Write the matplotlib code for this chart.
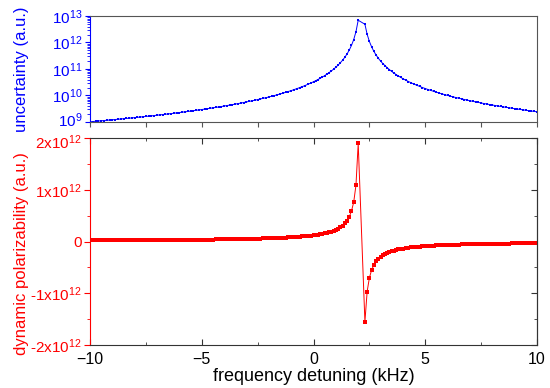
import matplotlib
matplotlib.use('Agg')
import matplotlib.pyplot as plt
import matplotlib.transforms as mtransforms
import numpy as np
from matplotlib.ticker import LogLocator, MultipleLocator, FixedLocator, FixedFormatter, NullFormatter

plt.rcParams['font.family'] = 'Liberation Sans'
plt.rcParams['mathtext.fontset'] = 'custom'
plt.rcParams['mathtext.rm'] = 'Liberation Sans'
plt.rcParams['mathtext.it'] = 'Liberation Sans'
plt.rcParams['mathtext.default'] = 'regular'

# frequency detuning (kHz)
freq = [-10.0, -9.875, -9.75, -9.625, -9.5, -9.375, -9.25, -9.125, -9.0, -8.875, -8.75, -8.625,
        -8.5, -8.375, -8.25, -8.125, -8.0, -7.875, -7.75, -7.625, -7.5, -7.375, -7.25, -7.125,
        -7.0, -6.875, -6.75, -6.625, -6.5, -6.375, -6.25, -6.125, -6.0, -5.875, -5.75, -5.625,
        -5.5, -5.375, -5.25, -5.125, -5.0, -4.875, -4.75, -4.625, -4.5, -4.375, -4.25, -4.125,
        -4.0, -3.875, -3.75, -3.625, -3.5, -3.375, -3.25, -3.125, -3.0, -2.875, -2.75, -2.625,
        -2.5, -2.375, -2.25, -2.125, -2.0, -1.875, -1.75, -1.625, -1.5, -1.375, -1.25, -1.125,
        -1.0, -0.875, -0.75, -0.625, -0.5, -0.375, -0.25, -0.125, 0.0,
        0.1, 0.2, 0.3, 0.4, 0.5, 0.6, 0.7, 0.8, 0.9, 1.0, 1.1, 1.2, 1.3, 1.4, 1.5, 1.6, 1.7,
        1.8, 1.9, 2.0,
        2.3, 2.4, 2.5, 2.6, 2.7, 2.8, 2.9, 3.0, 3.1, 3.2, 3.3, 3.4, 3.5, 3.6, 3.7, 3.8, 3.9, 4.0,
        4.125, 4.25, 4.375, 4.5, 4.625, 4.75, 4.875, 5.0, 5.125, 5.25, 5.375, 5.5, 5.625, 5.75,
        5.875, 6.0, 6.125, 6.25, 6.375, 6.5, 6.625, 6.75, 6.875, 7.0, 7.125, 7.25, 7.375, 7.5,
        7.625, 7.75, 7.875, 8.0, 8.125, 8.25, 8.375, 8.5, 8.625, 8.75, 8.875, 9.0, 9.125, 9.25,
        9.375, 9.5, 9.625, 9.75, 9.875, 10.0]

# uncertainty, in units of 1e9 a.u.
uncert = [1.019, 1.040, 1.062, 1.085, 1.108, 1.132, 1.157, 1.183, 1.210, 1.237, 1.266, 1.296,
          1.326, 1.358, 1.391, 1.425, 1.460, 1.497, 1.535, 1.575, 1.616, 1.659, 1.703, 1.749,
          1.798, 1.848, 1.900, 1.955, 2.012, 2.071, 2.133, 2.198, 2.267, 2.338, 2.413, 2.491,
          2.573, 2.660, 2.750, 2.846, 2.946, 3.053, 3.164, 3.282, 3.407, 3.539, 3.679, 3.828,
          3.985, 4.153, 4.331, 4.521, 4.724, 4.941, 5.172, 5.421, 5.688, 5.976, 6.287, 6.620,
          6.983, 7.375, 7.800, 8.264, 8.772, 9.328, 9.940, 10.61, 11.35, 12.18, 13.09, 14.11,
          15.26, 16.56, 18.02, 19.69, 21.60, 23.81, 26.37, 29.37, 32.91,
          36.22, 40.06, 44.55, 49.83, 56.11, 63.66, 72.85, 84.17, 98.36, 116.4, 140.0, 170.9,
          214.1, 275.9, 368.8, 517.8, 778.4, 1296, 2554, 6904,
          4882, 2035, 1097, 682.7, 464.8, 336.5, 254.8, 199.5, 160.5, 132.3, 110.5, 93.74,
          80.51, 69.89, 61.24, 54.11, 48.15, 43.13,
          37.88, 33.53, 29.89, 26.82, 24.19, 21.94, 19.98, 18.27, 16.78, 15.46, 14.29, 13.25,
          12.32, 11.48, 10.72, 10.04, 9.422, 8.858, 8.343, 7.873, 7.441, 7.043, 6.676, 6.338,
          6.024, 5.733, 5.462, 5.211, 4.977, 4.758, 4.552, 4.361, 4.181, 4.011, 3.852, 3.703,
          3.561, 3.428, 3.302, 3.183, 3.070, 2.963, 2.862, 2.765, 2.674, 2.587, 2.504, 2.425]

# dynamic polarizability, in units of 1e10 a.u.
polar = [2.11, 2.13, 2.15, 2.18, 2.20, 2.22, 2.25, 2.27, 2.30, 2.33, 2.35, 2.38, 2.41, 2.44,
         2.47, 2.50, 2.53, 2.56, 2.59, 2.62, 2.66, 2.69, 2.73, 2.77, 2.80, 2.84, 2.88, 2.92,
         2.97, 3.01, 3.05, 3.10, 3.15, 3.20, 3.25, 3.30, 3.35, 3.41, 3.47, 3.53, 3.59, 3.65,
         3.72, 3.79, 3.86, 3.93, 4.01, 4.09, 4.17, 4.26, 4.35, 4.44, 4.54, 4.65, 4.75, 4.87,
         4.99, 5.11, 5.24, 5.38, 5.52, 5.68, 5.84, 6.01, 6.19, 6.38, 6.59, 6.81, 7.04, 7.29,
         7.56, 7.85, 8.17, 8.51, 8.87, 9.28, 9.72, 10.20, 10.73, 11.33, 11.99,
         12.58, 13.23, 13.95, 14.76, 15.66, 16.68, 17.84, 19.18, 20.73, 22.56, 24.73, 27.38,
         30.66, 34.83, 40.31, 47.85, 58.85, 76.42, 108.9, 189.6,
         -155.2, -96.60, -70.14, -55.05, -45.31, -38.50, -33.46, -29.60, -26.53, -24.04,
         -21.97, -20.24, -18.75, -17.47, -16.36, -15.38, -14.50, -13.73,
         -12.86, -12.10, -11.43, -10.82, -10.28, -9.79, -9.34, -8.94, -8.56, -8.22, -7.90,
         -7.61, -7.34, -7.08, -6.85, -6.62, -6.42, -6.22, -6.04, -5.87, -5.70, -5.55, -5.40,
         -5.26, -5.13, -5.01, -4.89, -4.77, -4.66, -4.56, -4.46, -4.37, -4.27, -4.19, -4.10,
         -4.02, -3.95, -3.87, -3.80, -3.73, -3.66, -3.60, -3.54, -3.48, -3.42, -3.36, -3.31,
         -3.26]

polar_ticks = [-2e12, -1e12, 0, 1e12, 2e12]
polar_labels = ['-2x10$^{12}$', '-1x10$^{12}$', '0', '1x10$^{12}$', '2x10$^{12}$']
x_ticks = [-10, -5, 0, 5, 10]

x = np.array(freq)
u = np.array(uncert) * 1e9
a = np.array(polar) * 1e10

fig = plt.figure(figsize=(5.5, 3.88), dpi=100)
ax1 = fig.add_axes([0.1636, 0.6856, 0.8128, 0.2732])
ax2 = fig.add_axes([0.1636, 0.1108, 0.8128, 0.5335])

frame = '#555555'
tsize = 11

# top panel: uncertainty
ax1.plot(x, u, '-', color='blue', lw=0.7, marker='s', ms=2, mew=0)
ax1.set_yscale('log')
ax1.set_xlim(-10, 10)
ax1.set_ylim(1e9, 1e13)
ax1.yaxis.set_major_locator(LogLocator(base=10, numticks=10))
ax1.yaxis.set_minor_locator(LogLocator(base=10, subs=np.arange(2, 10), numticks=10))
ax1.yaxis.set_minor_formatter(NullFormatter())
ax1.xaxis.set_major_locator(MultipleLocator(2.5))
ax1.tick_params(axis='x', which='both', direction='out', length=3.5, labelbottom=False,
                color=frame)
ax1.tick_params(axis='y', which='major', direction='out', length=3.5, colors='blue',
                labelsize=tsize, pad=2)
ax1.tick_params(axis='y', which='minor', direction='out', length=2, colors='blue')
ax1.spines['left'].set_color('blue')
for s in ['top', 'right', 'bottom']:
    ax1.spines[s].set_color(frame)
ax1.set_ylabel('uncertainty (a.u.)', color='blue', fontsize=12)
ax1.yaxis.set_label_coords(-0.137, 0.5)

# bottom panel: dynamic polarizability
ax2.plot(x, a, '-', color='red', lw=0.7, marker='s', ms=2.6, mew=0)
ax2.set_xlim(-10, 10)
ax2.set_ylim(-2e12, 2e12)
ax2.yaxis.set_major_locator(FixedLocator(polar_ticks))
ax2.yaxis.set_major_formatter(FixedFormatter(polar_labels))
ax2.yaxis.set_minor_locator(MultipleLocator(0.5e12))
ax2.xaxis.set_major_locator(FixedLocator(x_ticks))
ax2.xaxis.set_minor_locator(MultipleLocator(2.5))
ax2.tick_params(axis='x', which='major', direction='in', length=4, top=True,
                labelsize=tsize + 0.5, color='#333333', pad=5)
ax2.tick_params(axis='x', which='minor', direction='in', length=2.5, top=True,
                color='#333333')
ax2.tick_params(axis='y', which='major', direction='out', length=4, colors='red',
                labelsize=tsize, pad=2)
ax2.tick_params(axis='y', which='minor', direction='out', length=2.5, colors='red')
ax2.spines['left'].set_color('red')
for s in ['top', 'right', 'bottom']:
    ax2.spines[s].set_color('#333333')

ax2r = ax2.secondary_yaxis('right')
ax2r.yaxis.set_major_locator(FixedLocator(polar_ticks))
ax2r.yaxis.set_minor_locator(MultipleLocator(0.5e12))
ax2r.tick_params(axis='y', which='major', direction='in', length=4, labelright=False,
                 color='#333333')
ax2r.tick_params(axis='y', which='minor', direction='in', length=2.5, color='#333333')
ax2r.spines['right'].set_color('#333333')

ax2.set_ylabel('dynamic polarizability (a.u.)', color='red', fontsize=12)
ax2.yaxis.set_label_coords(-0.137, 0.44)
ax2.set_xlabel('frequency detuning (kHz)', fontsize=13, labelpad=1)

# nudge the two tick labels that meet between the panels apart a little
fig.canvas.draw()
lbl_low = [t for t in ax1.get_yticklabels() if t.get_position()[1] == 1e9]
lbl_top = [t for t in ax2.get_yticklabels() if t.get_text() == polar_labels[-1]]
for t in lbl_low:
    t.set_transform(t.get_transform() + mtransforms.ScaledTranslation(0, 2 / 72, fig.dpi_scale_trans))
for t in lbl_top:
    t.set_transform(t.get_transform() + mtransforms.ScaledTranslation(0, -2 / 72, fig.dpi_scale_trans))

fig.savefig('out.png', dpi=100)
